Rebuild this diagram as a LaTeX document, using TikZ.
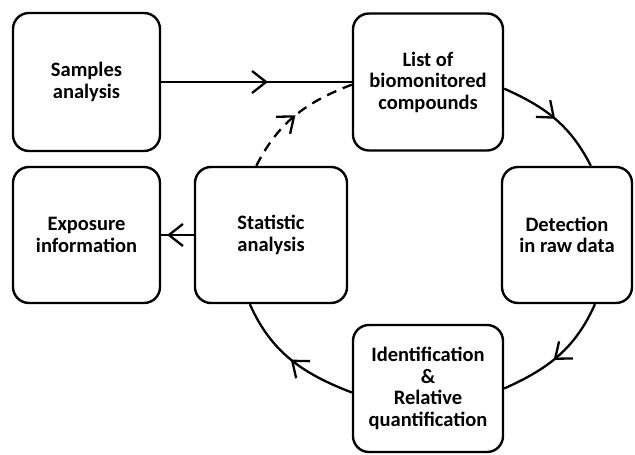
\documentclass[tikz,border=0pt]{standalone}
\usepackage{fontspec}
\setmainfont{Carlito}
\usetikzlibrary{arrows.meta,decorations.markings}
\begin{document}
\begin{tikzpicture}[x=1pt,y=1pt,
  box/.style={draw, line width=2.4pt, rounded corners=16pt, fill=white, align=center, inner sep=0pt,
    font=\fontsize{20.5}{21.5}\selectfont\bfseries},
  conn/.style={line width=2.3pt},
  midarrow/.style={postaction={decorate}, decoration={markings,
    mark=at position #1 with {\arrow[solid]{Straight Barb[length=14pt,width=22pt,line width=2.3pt]}}}}]
\useasboundingbox (0,0) rectangle (635,455);
\node[box, minimum width=147pt, minimum height=138pt] (samples) at (86.5,373) {Samples\\analysis};
\node[box, minimum width=150pt, minimum height=137pt] (list) at (428,373) {List of\\biomonitored\\compounds};
\node[box, minimum width=147pt, minimum height=136pt] (expo) at (86.5,220) {Exposure\\information};
\node[box, minimum width=152pt, minimum height=136pt] (stat) at (271,220) {Statistic\\analysis};
\node[box, minimum width=130pt, minimum height=136pt] (det) at (567,220) {Detection\\in raw data};
\node[box, minimum width=150pt, minimum height=127pt] (ident) at (428,66.5) {Identification\\\&\\Relative\\quantification};

\draw[conn, midarrow=0.56] (samples.east) -- (list.west);
\draw[conn, midarrow=0.5] (list.-5) to[out=-24,in=117] (det.71);
\draw[conn, midarrow=0.55] (det.-68) to[out=-114,in=24] (ident.east);
\draw[conn, midarrow=0.5] (ident.183) to[out=159,in=-66] (stat.253);
\draw[conn, dash pattern=on 10pt off 7pt, midarrow=0.5] (stat.102) to[out=63,in=201] (list.182);
\draw[conn, midarrow=0.82] (stat.west) -- (expo.east);
\end{tikzpicture}
\end{document}
